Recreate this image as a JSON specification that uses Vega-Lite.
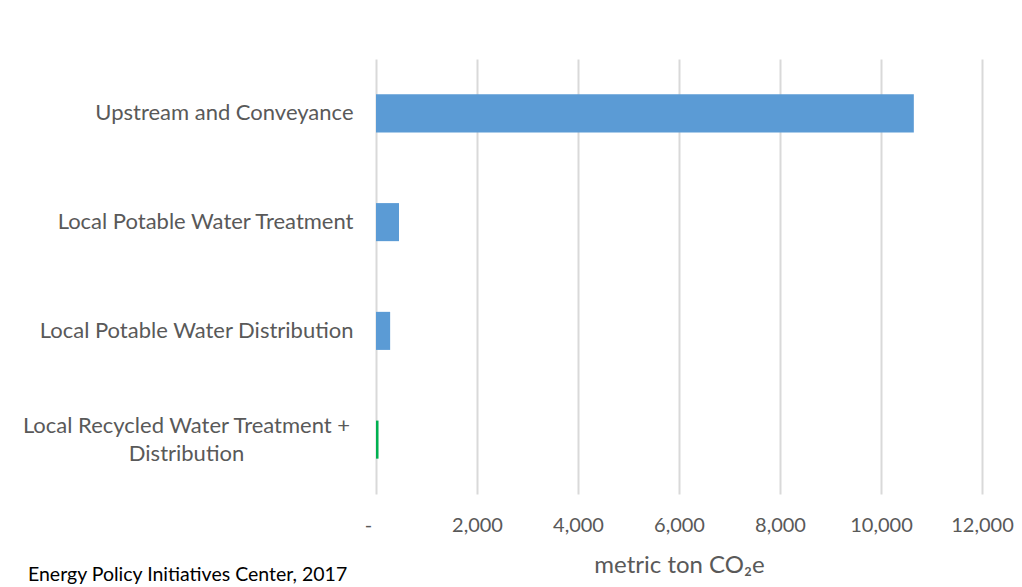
{
  "$schema": "https://vega.github.io/schema/vega-lite/v6.json",
  "width": 606,
  "height": 435,
  "autosize": {"type": "none"},
  "padding": {"left": 376, "top": 59, "right": 40, "bottom": 93},
  "background": "white",
  "title": {
    "text": "Energy Policy Initiatives Center, 2017",
    "orient": "bottom",
    "anchor": "start",
    "frame": "group",
    "dx": -348,
    "offset": -11,
    "font": "Lato",
    "fontSize": 19.5,
    "fontWeight": "normal",
    "color": "#000000"
  },
  "data": {
    "values": [
      {"stage": "Upstream and Conveyance", "emissions": 10650, "group": "potable"},
      {"stage": "Local Potable Water Treatment", "emissions": 455, "group": "potable"},
      {"stage": "Local Potable Water Distribution", "emissions": 280, "group": "potable"},
      {"stage": "Local Recycled Water Treatment + Distribution", "emissions": 50, "group": "recycled"}
    ]
  },
  "mark": {"type": "bar"},
  "encoding": {
    "y": {
      "field": "stage",
      "type": "nominal",
      "sort": null,
      "scale": {"paddingInner": 0.65, "paddingOuter": 0.325},
      "axis": {
        "title": null,
        "domain": false,
        "ticks": false,
        "labelFont": "Lato",
        "labelFontSize": 22,
        "labelColor": "#595959",
        "labelLimit": 400,
        "labelLineHeight": 28,
        "labelExpr": "datum.value == 'Local Recycled Water Treatment + Distribution' ? ['Local Recycled Water Treatment +', 'Distribution'] : datum.label",
        "labelAlign": {"condition": {"test": "datum.value == 'Local Recycled Water Treatment + Distribution'", "value": "center"}, "value": "right"},
        "labelPadding": {"condition": {"test": "datum.value == 'Local Recycled Water Treatment + Distribution'", "value": 190}, "value": 23},
        "labelOffset": {"condition": {"test": "datum.value == 'Local Recycled Water Treatment + Distribution'", "value": -14}, "value": 0}
      }
    },
    "x": {
      "field": "emissions",
      "type": "quantitative",
      "scale": {"domain": [0, 12000], "nice": false},
      "axis": {
        "title": "metric ton CO₂e",
        "titleFont": "Lato",
        "titleFontSize": 24,
        "titleFontWeight": "normal",
        "titleColor": "#595959",
        "titlePadding": 18,
        "values": [0, 2000, 4000, 6000, 8000, 10000, 12000],
        "labelExpr": "datum.value == 0 ? '-' : format(datum.value, ',')",
        "labelFont": "Lato",
        "labelFontSize": 20,
        "labelColor": "#595959",
        "labelPadding": 21,
        "labelFlush": false,
        "labelOverlap": false,
        "labelOffset": {"condition": {"test": "datum.value == 0", "value": -8}, "value": 0},
        "domain": false,
        "ticks": false,
        "grid": true,
        "gridColor": "#d9d9d9",
        "gridWidth": 2
      }
    },
    "color": {
      "field": "group",
      "type": "nominal",
      "scale": {"domain": ["potable", "recycled"], "range": ["#5b9bd5", "#00b050"]},
      "legend": null
    }
  },
  "config": {"view": {"stroke": null}}
}
